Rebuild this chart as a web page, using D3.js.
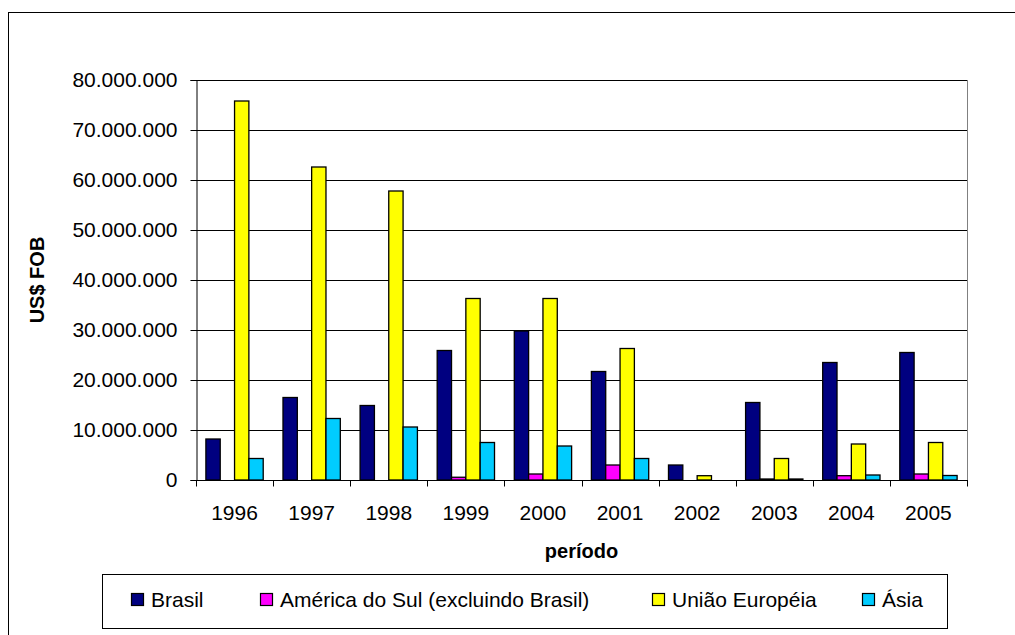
<!DOCTYPE html>
<html>
<head>
<meta charset="utf-8">
<script src="https://cdn.jsdelivr.net/npm/d3@7"></script>
<style>
  html, body { margin: 0; padding: 0; background: #fff; }
  svg { display: block; font-family: "Liberation Sans", Arial, sans-serif; }
</style>
</head>
<body>
<svg id="chart" width="1015" height="635"></svg>
<script>
// Exportações anuais por destino (US$ FOB)
const years = ["1996", "1997", "1998", "1999", "2000", "2001", "2002", "2003", "2004", "2005"];
const seriesNames = ["Brasil", "América do Sul (excluindo Brasil)", "União Européia", "Ásia"];
const brasil  = [8200000, 16500000, 14900000, 25900000, 29800000, 21700000, 3000000, 15500000, 23500000, 25500000];
const amSul   = [0, 0, 0, 550000, 1200000, 3000000, 0, 200000, 860000, 1200000];
const uniaoEu = [75800000, 62600000, 57800000, 36300000, 36300000, 26300000, 860000, 4300000, 7200000, 7500000];
const asia    = [4300000, 12300000, 10600000, 7500000, 6800000, 4300000, 0, 200000, 1000000, 900000];
const yTicks  = [0, 10000000, 20000000, 30000000, 40000000, 50000000, 60000000, 70000000, 80000000];
const colors  = ["#000080", "#FF00FF", "#FFFF00", "#00CCFF"];

const seriesValues = [brasil, amSul, uniaoEu, asia];

const svg = d3.select("#chart");
const plot = { left: 196, right: 967, top: 80, bottom: 480 };

// Outer chart frame
svg.append("rect")
  .attr("x", 8.5).attr("y", 12.5)
  .attr("width", 1030).attr("height", 650)
  .attr("fill", "#fff").attr("stroke", "#000").attr("stroke-width", 1);

const x = d3.scaleBand().domain(years).range([plot.left, plot.right]).paddingInner(0).paddingOuter(0);
const xs = d3.scaleBand().domain(d3.range(seriesNames.length))
  .range([0, x.bandwidth()]).paddingInner(0).paddingOuter(0.69);
const y = d3.scaleLinear().domain([0, 80000000]).range([plot.bottom, plot.top]);

const ptBR = d3.formatLocale({ decimal: ",", thousands: ".", grouping: [3], currency: ["", ""] });
const fmt = ptBR.format(",");

// Horizontal gridlines
svg.append("g")
  .selectAll("line")
  .data(yTicks.filter(t => t > 0))
  .join("line")
  .attr("x1", plot.left).attr("x2", plot.right)
  .attr("y1", d => Math.round(y(d)) + 0.5).attr("y2", d => Math.round(y(d)) + 0.5)
  .attr("stroke", "#000").attr("stroke-width", 1);

// Right edge of plot area
svg.append("line")
  .attr("x1", plot.right + 0.5).attr("x2", plot.right + 0.5)
  .attr("y1", plot.top).attr("y2", plot.bottom)
  .attr("stroke", "#808080").attr("stroke-width", 1);

// Bars
const barData = [];
years.forEach((yr, i) => {
  seriesValues.forEach((vals, s) => {
    if (vals[i] > 0) barData.push({ year: yr, s: s, v: vals[i] });
  });
});

svg.append("g")
  .selectAll("rect")
  .data(barData)
  .join("rect")
  .attr("x", d => x(d.year) + xs(d.s))
  .attr("y", d => y(d.v))
  .attr("width", xs.bandwidth())
  .attr("height", d => y(0) - y(d.v))
  .attr("fill", d => colors[d.s])
  .attr("stroke", "#000")
  .attr("stroke-width", 1.3);

// Y axis
const yAxis = svg.append("g")
  .attr("transform", `translate(${plot.left + 0.5},0)`)
  .call(d3.axisLeft(y).tickValues(yTicks).tickFormat(fmt).tickSize(6).tickPadding(13));
yAxis.select(".domain").attr("stroke", "#000");
yAxis.selectAll(".tick line").attr("stroke", "#000");
yAxis.selectAll("text")
  .attr("font-family", "Liberation Sans, Arial, sans-serif")
  .attr("font-size", 21).attr("fill", "#000");

// X axis with ticks between categories
const xAxis = svg.append("g")
  .attr("transform", `translate(0,${plot.bottom + 0.5})`);
xAxis.append("line")
  .attr("x1", plot.left).attr("x2", plot.right + 1)
  .attr("stroke", "#000");
xAxis.selectAll("line.sep")
  .data(years.concat(["end"]))
  .join("line")
  .attr("class", "sep")
  .attr("x1", (d, i) => Math.round(plot.left + i * x.step()) + 0.5)
  .attr("x2", (d, i) => Math.round(plot.left + i * x.step()) + 0.5)
  .attr("y1", 0).attr("y2", 6)
  .attr("stroke", "#000");
xAxis.selectAll("text")
  .data(years)
  .join("text")
  .attr("x", d => x(d) + x.bandwidth() / 2)
  .attr("y", 39)
  .attr("text-anchor", "middle")
  .attr("font-size", 21)
  .attr("fill", "#000")
  .text(d => d);

// Axis titles
svg.append("text")
  .attr("x", (plot.left + plot.right) / 2)
  .attr("y", 558)
  .attr("text-anchor", "middle")
  .attr("font-weight", "bold")
  .attr("font-size", 20)
  .text("período");

svg.append("text")
  .attr("transform", `translate(44,${(plot.top + plot.bottom) / 2}) rotate(-90)`)
  .attr("text-anchor", "middle")
  .attr("font-weight", "bold")
  .attr("font-size", 20)
  .text("US$ FOB");

// Legend
const legend = svg.append("g");
legend.append("rect")
  .attr("x", 102.5).attr("y", 574.5)
  .attr("width", 845).attr("height", 54)
  .attr("fill", "#fff").attr("stroke", "#000");
const legendX = [131, 260, 652, 862];
const items = legend.selectAll("g.item")
  .data(seriesNames)
  .join("g")
  .attr("class", "item")
  .attr("transform", (d, i) => `translate(${legendX[i]},593)`);
items.append("rect")
  .attr("x", 0.5).attr("y", 0.5)
  .attr("width", 12).attr("height", 12)
  .attr("fill", (d, i) => colors[i])
  .attr("stroke", "#000").attr("stroke-width", 1.2);
items.append("text")
  .attr("x", 20).attr("y", 13.5)
  .attr("font-size", 21)
  .attr("fill", "#000")
  .text(d => d);
</script>
</body>
</html>
